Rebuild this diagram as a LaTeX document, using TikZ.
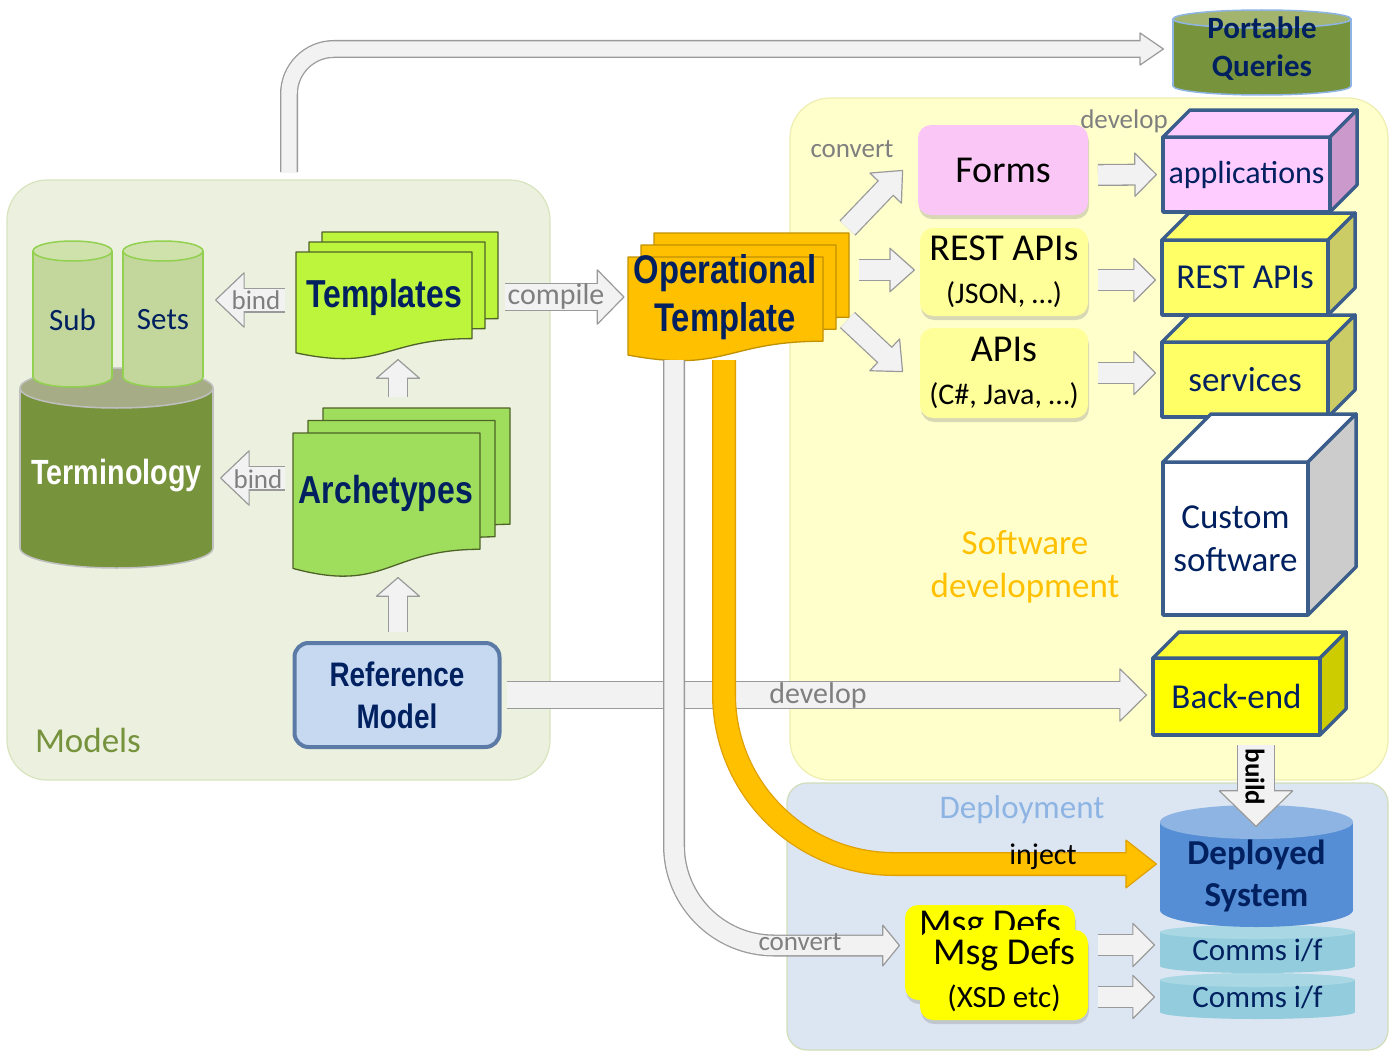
\documentclass[tikz,border=0pt]{standalone}
\usepackage{fontspec}
\setmainfont{Carlito}
\newfontfamily\narrowfont[FakeStretch=0.82]{Liberation Sans}
\usepackage{tikz}
\usetikzlibrary{arrows.meta}
\usetikzlibrary{shadows}

\definecolor{navy}{HTML}{002060}
\definecolor{modelsbg}{HTML}{EBF1DE}
\definecolor{modelsln}{HTML}{D7E4BD}
\definecolor{softbg}{HTML}{FFFFCC}
\definecolor{softln}{HTML}{EEEEB0}
\definecolor{deplbg}{HTML}{DCE6F2}
\definecolor{deplln}{HTML}{D0DDB8}
\definecolor{olive}{HTML}{77933C}
\definecolor{olivetext}{HTML}{76923C}
\definecolor{termtop}{HTML}{A6AD86}
\definecolor{termedge}{HTML}{BFBFBF}
\definecolor{pqtop}{HTML}{A2B46E}
\definecolor{pqedge}{HTML}{8EB4E3}
\definecolor{subfill}{HTML}{C3D69B}
\definecolor{subtop}{HTML}{D0E2AC}
\definecolor{subedge}{HTML}{92D050}
\definecolor{tmplfill}{HTML}{BDF53C}
\definecolor{tmplln}{HTML}{4F6228}
\definecolor{archfill}{HTML}{9EDE5C}
\definecolor{otfill}{HTML}{FFC000}
\definecolor{otln}{HTML}{C09000}
\definecolor{reffill}{HTML}{C6D9F1}
\definecolor{refln}{HTML}{5B7BA6}
\definecolor{formsfill}{HTML}{F9C6F5}
\definecolor{restfill}{HTML}{FFFF99}
\definecolor{boxline}{HTML}{3B5D8C}
\definecolor{appfill}{HTML}{FFCCFF}
\definecolor{appside}{HTML}{CC99CC}
\definecolor{ylwbox}{HTML}{FFFF66}
\definecolor{ylwside}{HTML}{CCCC66}
\definecolor{customside}{HTML}{CCCCCC}
\definecolor{backfill}{HTML}{FFFF00}
\definecolor{backtop}{HTML}{FFFF33}
\definecolor{backside}{HTML}{CCCC00}
\definecolor{deplbody}{HTML}{558ED5}
\definecolor{depltop}{HTML}{8EB4E3}
\definecolor{comms}{HTML}{93CDDD}
\definecolor{commstop}{HTML}{A9D8E4}
\definecolor{msgfill}{HTML}{FFFF00}
\definecolor{labelgrey}{HTML}{7F7F7F}
\definecolor{softtext}{HTML}{FFC000}
\definecolor{pipefill}{HTML}{F2F2F2}
\definecolor{pipeedge}{HTML}{9A9A9A}
\definecolor{gold}{HTML}{FFC000}
\definecolor{goldedge}{HTML}{E0A000}

% fill, edge, width, head width, head length, path
\newcommand\blockpipe[6]{%
  \draw[line width=#3pt, draw=#2, -{Triangle[width=#4pt,length=#5pt,line width=1.2pt,fill=#1,round]}] #6;
  \draw[line width=#3pt-2.6pt, draw=#1, shorten >=#5pt-3pt] #6;}

% cx, top y, bottom y, half width, ry, body, top, edge
\newcommand\drumshape[8]{%
  \filldraw[fill=#6, draw=#8, line width=1.5pt] (#1,#3) ellipse [x radius=#4, y radius=#5];
  \fill[#6] (#1-#4,#2) rectangle (#1+#4,#3);
  \draw[draw=#8, line width=1.5pt] (#1-#4,#2) -- (#1-#4,#3) (#1+#4,#2) -- (#1+#4,#3);
  \filldraw[fill=#7, draw=#8, line width=1.5pt] (#1,#2) ellipse [x radius=#4, y radius=#5];}

% x, top y, w, h, fill, edge
\newcommand\docpage[6]{%
  \filldraw[fill=#5, draw=#6, line width=1.3pt, line join=round]
    (#1,#2) -- (#1+#3,#2) -- (#1+#3,{#2+0.802*#4})
    .. controls ({#1+0.5*#3},{#2+0.802*#4}) and ({#1+0.5*#3},{#2+1.1075*#4}) .. (#1,{#2+0.934*#4}) -- cycle;}
\newcommand\docstack[8]{%
  \docpage{#1+2*#5}{#2-2*#6}{#3}{#4}{#7}{#8}
  \docpage{#1+#5}{#2-#6}{#3}{#4}{#7}{#8}
  \docpage{#1}{#2}{#3}{#4}{#7}{#8}}

% node, depth, top, side
\newcommand\cubefaces[4]{%
  \filldraw[boxedge, fill=#3] (#1.north west) -- ++(#2,-#2) -- ([shift={(#2,-#2)}]#1.north east) -- (#1.north east) -- cycle;
  \filldraw[boxedge, fill=#4] (#1.north east) -- ([shift={(#2,-#2)}]#1.north east) -- ([shift={(#2,-#2)}]#1.south east) -- (#1.south east) -- cycle;}

\begin{document}
\begin{tikzpicture}[x=1pt,y=-1pt]
\tikzset{every node/.style={outer sep=0pt}}
\tikzset{lbl/.style={text=labelgrey, inner sep=0pt, font=\fontsize{27}{32}\selectfont}}
\tikzset{bignarrow/.style={text=navy, inner sep=0pt, align=center, font=\narrowfont\bfseries\fontsize{39}{48}\selectfont}}
\tikzset{box/.style={draw=boxline, line width=3.5pt, line join=round, inner sep=0pt, text=navy, align=center, font=\fontsize{35}{43}\selectfont}}
\tikzset{rbox/.style={rounded corners=13pt, inner sep=0pt, align=center, font=\fontsize{38}{43}\selectfont, drop shadow={shadow xshift=1pt, shadow yshift=-4pt, opacity=.3}}}
\tikzset{boxedge/.style={draw=boxline, line width=3.5pt, line join=round}}
\tikzset{drumtext/.style={inner sep=0pt, align=center, text=navy}}

\useasboundingbox (0,0) rectangle (1395,1057);

% panels
\filldraw[fill=modelsbg, draw=modelsln, line width=1.2pt, rounded corners=40pt] (7,180) rectangle (550,780);
\filldraw[fill=softbg, draw=softln, line width=1.2pt, rounded corners=40pt] (790,98) rectangle (1388,780);
\filldraw[fill=deplbg, draw=deplln, line width=1.2pt, rounded corners=20pt] (787,783) rectangle (1388,1050);

% cylinders
\drumshape{1262}{19}{86}{89}{9}{olive}{pqtop}{pqedge}
\node[drumtext, font=\bfseries\fontsize{31}{38}\selectfont, minimum width=178pt, minimum height=60pt] (pq) at (1262,49) {Portable\\Queries};
\drumshape{116.5}{388}{548}{96.5}{20}{olive}{termtop}{termedge}
\drumshape{72.5}{251}{377}{39.5}{10}{subfill}{subtop}{subedge}
\drumshape{163}{251}{377}{40}{10}{subfill}{subtop}{subedge}
\node[drumtext, font=\fontsize{31}{36}\selectfont, minimum width=79pt, minimum height=126pt] (sub) at (72.5,320) {Sub};
\node[drumtext, font=\fontsize{31}{36}\selectfont, minimum width=80pt, minimum height=126pt] (sets) at (163,320) {Sets};
\node[drumtext, text=white, font=\narrowfont\bfseries\fontsize{35}{42}\selectfont, minimum width=193pt, minimum height=160pt] (term) at (116.5,476) {Terminology};
\drumshape{1257.5}{980}{1012}{97.5}{7}{comms}{commstop}{none}
\drumshape{1257.5}{932}{966}{97.5}{7}{comms}{commstop}{none}
\drumshape{1256.5}{822}{910}{96.5}{17}{deplbody}{depltop}{none}
\node[drumtext, font=\bfseries\fontsize{35}{42}\selectfont, minimum width=193pt, minimum height=90pt] (depl) at (1256.5,876) {Deployed\\System};
\node[drumtext, font=\fontsize{31}{36}\selectfont, minimum width=195pt, minimum height=34pt] (comms1) at (1257.5,950) {Comms i/f};
\node[drumtext, font=\fontsize{31}{36}\selectfont, minimum width=195pt, minimum height=32pt] (comms2) at (1257.5,997) {Comms i/f};

% document stacks
\docstack{296}{252}{176}{108}{13}{10}{tmplfill}{tmplln}
\docstack{293}{433}{187}{145}{15}{12.5}{archfill}{tmplln}
\docstack{628}{257}{195}{105}{13}{12}{otfill}{otln}
\node[bignarrow, minimum width=176pt, minimum height=90pt] (tmpl) at (384,297) {Templates};
\node[bignarrow, minimum width=187pt, minimum height=100pt] (arch) at (386,493) {Archetypes};
\node[bignarrow, font=\narrowfont\bfseries\fontsize{40}{48}\selectfont, minimum width=195pt, minimum height=90pt] (ot) at (725,297) {Operational\\Template};
\node[bignarrow, draw=refln, line width=4pt, fill=reffill, rounded corners=14pt, minimum width=205pt, minimum height=104pt, font=\narrowfont\bfseries\fontsize{34}{42}\selectfont] (ref) at (397,695) {Reference\\Model};

% rounded boxes
\node[rbox, fill=formsfill, minimum width=170pt, minimum height=90pt] (forms) at (1003,170) {Forms};
\node[rbox, fill=restfill, minimum width=168pt, minimum height=88pt] (rest) at (1004,272) {REST APIs\\{\fontsize{30}{34}\selectfont (JSON, …)}};
\node[rbox, fill=restfill, minimum width=168pt, minimum height=90pt] (apis) at (1004,373) {APIs\\{\fontsize{30}{34}\selectfont (C\#, Java, …)}};
\node[rbox, fill=msgfill, minimum width=170pt, minimum height=95pt, anchor=north, text depth=60pt] (msgback) at (990,905) {Msg Defs};
\node[rbox, fill=msgfill, minimum width=168pt, minimum height=90pt] (msg) at (1004,975) {Msg Defs\\{\fontsize{31}{34}\selectfont (XSD etc)}};

% boxes
\node[box, fill=appfill, minimum width=167pt, minimum height=75pt, font=\fontsize{32}{38}\selectfont] (apps) at (1246.5,174.5) {applications};
\cubefaces{apps}{27}{appfill}{appside}
\node[box, fill=ylwbox, minimum width=166pt, minimum height=75pt] (restbox) at (1245,277.5) {REST APIs};
\cubefaces{restbox}{27}{ylwbox}{ylwside}
\node[box, fill=ylwbox, minimum width=166pt, minimum height=75pt] (serv) at (1245,379.5) {services};
\cubefaces{serv}{27}{ylwbox}{ylwside}
\node[box, fill=white, minimum width=145pt, minimum height=153pt] (custom) at (1235.5,538.5) {Custom\\software};
\cubefaces{custom}{48}{white}{customside}
\node[box, fill=backfill, minimum width=167pt, minimum height=77pt] (backend) at (1236.5,696.5) {Back-end};
\cubefaces{backend}{26}{backtop}{backside}

% connectors
\coordinate (qstart) at (289,172);
\blockpipe{pipefill}{pipeedge}{18}{34}{25}{[rounded corners=45pt] (qstart) |- ([xshift=-9pt]pq.west)}
\blockpipe{pipefill}{pipeedge}{25}{57}{30}{([shift={(-11,3)}]tmpl.west) -- ([shift={(12,-20)}]sets.east)}
\blockpipe{pipefill}{pipeedge}{25}{57}{30}{([shift={(-8,-15)}]arch.west) -- ([shift={(7,2)}]term.east)}
\blockpipe{pipefill}{pipeedge}{20}{46}{20}{([shift={(12,-46)}]arch.north) -- ([shift={(14,17)}]tmpl.south)}
\blockpipe{pipefill}{pipeedge}{20}{46}{20}{([shift={(1,-11)}]ref.north) -- ([shift={(12,34)}]arch.south)}
\blockpipe{pipefill}{pipeedge}{28}{57}{28}{([xshift=33pt]tmpl.east) -- ([xshift=-3pt]ot.west)}
\blockpipe{pipefill}{pipeedge}{22}{46}{26}{([shift={(25,-69)}]ot.east) -- ([xshift=-15pt]forms.west)}
\blockpipe{pipefill}{pipeedge}{22}{46}{26}{([shift={(36,-27)}]ot.east) -- ([shift={(-5,-2)}]rest.west)}
\blockpipe{pipefill}{pipeedge}{22}{46}{26}{([shift={(25,23)}]ot.east) -- ([shift={(-17,-1)}]apis.west)}
\blockpipe{pipefill}{pipeedge}{22}{46}{23}{([shift={(10,5)}]forms.east) -- ([xshift=-6pt]apps.west)}
\blockpipe{pipefill}{pipeedge}{22}{46}{23}{([shift={(10,8)}]rest.east) -- ([shift={(-6,2.5)}]restbox.west)}
\blockpipe{pipefill}{pipeedge}{22}{46}{23}{([xshift=10pt]apis.east) -- ([shift={(-6,-6.5)}]serv.west)}
\blockpipe{pipefill}{pipeedge}{22}{46}{23}{([shift={(10,-30)}]msg.east) -- ([shift={(-5,-5)}]comms1.west)}
\blockpipe{pipefill}{pipeedge}{22}{46}{23}{([shift={(10,22)}]msg.east) -- ([xshift=-5pt]comms2.west)}
\blockpipe{pipefill}{pipeedge}{38}{76}{37}{([shift={(19.5,10)}]backend.south) -- ([shift={(-0.5,-4)}]depl.north)}
\blockpipe{pipefill}{pipeedge}{28}{55}{28}{([xshift=7pt]ref.east) -- ([shift={(-6,-1.5)}]backend.west)}
\blockpipe{pipefill}{pipeedge}{22}{44}{18}{[rounded corners=100pt] ([shift={(-51,18)}]ot.south) |- ([shift={(-5,-7)}]msgback.west)}
\blockpipe{gold}{goldedge}{24}{50}{32}{[rounded corners=170pt] ([shift={(-1,18)}]ot.south) |- ([shift={(-3,-12)}]depl.west)}

% labels
\node[lbl] (lbind1) at (256,300) {bind};
\node[lbl] (lbind2) at (258,479) {bind};
\node[lbl, font=\fontsize{30}{36}\selectfont] (lcompile) at (556,296) {compile};
\node[lbl] (lconv1) at (852,149) {convert};
\node[lbl] (ldev1) at (1124,121) {develop};
\node[lbl, font=\fontsize{30}{36}\selectfont] (ldev2) at (818,695) {develop};
\node[lbl] (lconv2) at (800,942) {convert};
\node[inner sep=0pt, font=\fontsize{30}{36}\selectfont] (linject) at (1043,857) {inject};
\node[inner sep=0pt, rotate=-90, font=\bfseries\fontsize{27}{32}\selectfont] (lbuild) at (1255,777) {build};
\node[inner sep=0pt, text=olivetext, font=\fontsize{35}{42}\selectfont] (lmodels) at (88,740) {Models};
\node[inner sep=0pt, text=softtext, align=center, font=\fontsize{35}{43}\selectfont] (lsoft) at (1025,567) {Software\\development};
\node[inner sep=0pt, text=depltop, font=\fontsize{33}{40}\selectfont] (ldepl) at (1022,810) {Deployment};
\end{tikzpicture}
\end{document}
